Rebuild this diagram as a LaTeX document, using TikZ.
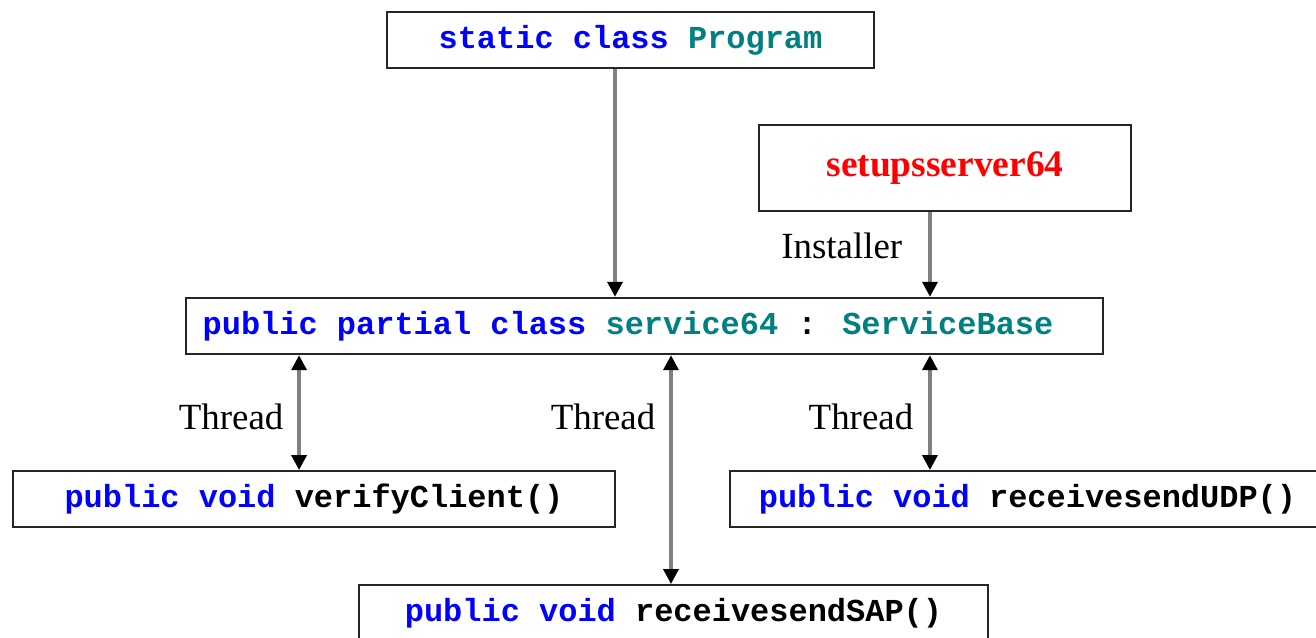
\documentclass[tikz,border=0pt]{standalone}
\usepackage{fontspec}
\setmainfont{Liberation Serif}
\newfontfamily\codefont{Liberation Mono}
\usepackage{xcolor}
\usetikzlibrary{arrows.meta,positioning}
\definecolor{kwc}{RGB}{0,0,255}
\definecolor{tyc}{RGB}{0,128,128}
\definecolor{setc}{RGB}{255,0,0}
\newcommand{\kw}[1]{\textcolor{kwc}{#1}}
\newcommand{\ty}[1]{\textcolor{tyc}{#1}}

\begin{document}
\begin{tikzpicture}[x=0.02cm,y=-0.02cm]
\tikzstyle{cls}=[draw=black!85,line width=1.1pt,fill=white,inner sep=0pt,minimum height=1.13cm,font=\codefont\bfseries\fontsize{18.2}{20}\selectfont]
\tikzstyle{ar}=[draw=black!50,line width=2pt,-{Triangle[length=0.3cm,width=0.3cm,color=black]}]
\tikzstyle{biar}=[ar,{Triangle[length=0.3cm,width=0.3cm,color=black]}-{Triangle[length=0.3cm,width=0.3cm,color=black]}]
\tikzstyle{lbl}=[font=\fontsize{21}{24}\selectfont,text=black,inner sep=0pt]
\useasboundingbox (0,0) rectangle (1316,638);
% boxes
\node[cls,minimum width=9.74cm] (prog) at (630.5,40) {\kw{static class} \ty{Program}};
\node[cls,minimum width=7.44cm,minimum height=1.72cm,font=\bfseries\fontsize{21.3}{24}\selectfont,text=setc] (setup) at (945,168) {setupsserver64};
% text sits a little left of centre here
\node[cls,minimum width=18.34cm] (svc) at (644.5,326) {\kw{public partial class} \ty{service64} : \ty{ServiceBase}\hspace*{0.66cm}};
\node[cls,minimum width=12.04cm,minimum height=1.12cm] (ver) at (314,499) {\kw{public void} verifyClient()};
\node[cls,minimum width=11.9cm,minimum height=1.12cm] (udp) at (1027.5,499) {\kw{public void} receivesendUDP()};
\node[cls,minimum width=12.58cm,minimum height=1.12cm] (sap) at (673.5,613) {\kw{public void} receivesendSAP()};
% calls
\draw[ar] ([xshift=-0.31cm]prog.south) -- ([xshift=-0.31cm]prog.south |- svc.north);
\draw[ar] ([xshift=-0.30cm]setup.south) -- ([xshift=-0.30cm]setup.south |- svc.north)
  node[lbl,pos=0.4,left=0.52cm] (inst) {Installer};
% worker threads
\draw[biar] ([xshift=-6.91cm]svc.south) -- ([xshift=-6.91cm]svc.south |- ver.north)
  node[lbl,pos=0.54,left=0.28cm] (t1) {Thread};
\draw[biar] ([xshift=0.53cm]svc.south) -- ([xshift=0.53cm]svc.south |- sap.north)
  node[lbl,pos=0.27,left=0.28cm] (t2) {Thread};
\draw[biar] ([xshift=5.71cm]svc.south) -- ([xshift=5.71cm]svc.south |- udp.north)
  node[lbl,pos=0.54,left=0.3cm] (t3) {Thread};
\end{tikzpicture}
\end{document}
